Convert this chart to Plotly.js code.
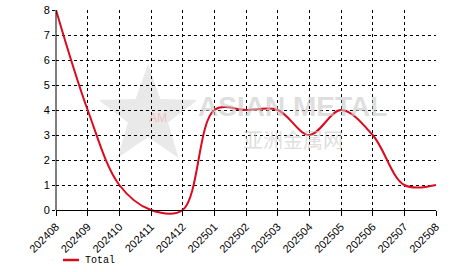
<!DOCTYPE html>
<html>
<head>
<meta charset="utf-8">
<script src="https://cdn.plot.ly/plotly-3.0.1.min.js"></script>
<style>html,body{margin:0;padding:0;background:#fff;}#chart{width:466px;height:272px;}</style>
</head>
<body>
<div id="chart"></div>
<script>
const months = ["202408","202409","202410","202411","202412","202501","202502","202503","202504","202505","202506","202507","202508"];
const totalValues = [8, 4, 1, 0, 0, 4, 4, 4, 3, 4, 3, 1, 1];
const yTicks = [0,1,2,3,4,5,6,7,8];
const seriesName = "Total";

const W = 466, H = 272, ML = 56, MR = 30, MT = 10, MB = 57;
const PW = W - ML - MR, PH = H - MT - MB;
const YMIN = -0.2, YMAX = 8;
const px = (x) => (x - ML) / PW;
const py = (y) => (H - MB - y) / PH;

// watermark star path (paper coords)
const cx = 148, cy = 116, R = 52, r = 21;
let starPath = "";
for (let i = 0; i < 10; i++) {
  const ang = -Math.PI / 2 + i * Math.PI / 5;
  const rad = i % 2 === 0 ? R : r;
  const X = px(cx + rad * Math.cos(ang)), Y = py(cy + rad * Math.sin(ang));
  starPath += (i === 0 ? "M" : "L") + X.toFixed(4) + "," + Y.toFixed(4);
}
starPath += "Z";

const trace = {
  x: months,
  y: totalValues,
  type: "scatter",
  mode: "lines",
  name: seriesName,
  line: {color: "#dc0a1e", width: 2, shape: "spline", smoothing: 1},
  hoverinfo: "skip"
};

const layout = {
  width: W, height: H,
  margin: {l: ML, r: MR, t: MT, b: MB},
  paper_bgcolor: "#fff", plot_bgcolor: "#fff",
  font: {family: "Liberation Sans, Arial, sans-serif", size: 11, color: "#000"},
  xaxis: {
    type: "category", range: [0, 12], automargin: false,
    anchor: "free", position: (0 - YMIN) / (YMAX - YMIN),
    showline: true, linecolor: "#000", linewidth: 1,
    showgrid: true, gridcolor: "#000", griddash: "dot", gridwidth: 1,
    ticks: "outside", ticklen: 5, tickcolor: "#000",
    tickangle: -45, tickfont: {size: 11, color: "#000"},
    zeroline: false, fixedrange: true
  },
  yaxis: {
    range: [YMIN, YMAX], tickvals: yTicks, automargin: false,
    showline: false,
    showgrid: true, gridcolor: "#000", griddash: "dot", gridwidth: 1,
    ticks: "outside", ticklen: 3, tickcolor: "#000",
    tickfont: {size: 11, color: "#000"},
    zeroline: false, fixedrange: true
  },
  showlegend: false,
  shapes: [
    {type: "path", xref: "paper", yref: "paper", path: starPath,
     fillcolor: "rgba(200,200,200,0.4)", line: {width: 0}, layer: "below"},
    {type: "rect", xref: "paper", yref: "y", x0: -0.01, x1: 1.01, y0: YMIN, y1: 0,
     fillcolor: "#fff", line: {width: 0}, layer: "between"},
    {type: "line", xref: "paper", yref: "y", x0: 0, x1: 0, y0: 0, y1: YMAX,
     line: {color: "#000", width: 1}, layer: "above"},
    {type: "line", xref: "paper", yref: "paper", x0: px(63), x1: px(79), y0: py(260), y1: py(260),
     line: {color: "#dc0a1e", width: 2.5}}
  ],
  annotations: [
    {text: "<b>ASIAN METAL</b>", xref: "paper", yref: "paper", x: px(292), y: py(106), showarrow: false, borderpad: 0,
     font: {family: "Liberation Sans, Arial", size: 28, color: "rgba(200,200,200,0.6)"}},
    {text: "亚洲金属网", xref: "paper", yref: "paper", x: px(293), y: py(139), showarrow: false, borderpad: 0,
     font: {family: "Noto Sans CJK SC", size: 20, color: "rgba(200,200,200,0.6)"}},
    {text: "AM", xref: "paper", yref: "paper", x: px(147), y: py(118), showarrow: false,
     font: {family: "Liberation Sans, Arial", size: 12, color: "rgba(240,150,150,0.5)"}},
    {text: seriesName, xref: "paper", yref: "paper", x: px(83), y: py(260), xanchor: "left", yanchor: "middle", showarrow: false,
     font: {family: "Liberation Mono, Courier New, monospace", size: 10, color: "#000"}}
  ]
};

Plotly.newPlot("chart", [trace], layout, {displayModeBar: false, staticPlot: true});
</script>
</body>
</html>
